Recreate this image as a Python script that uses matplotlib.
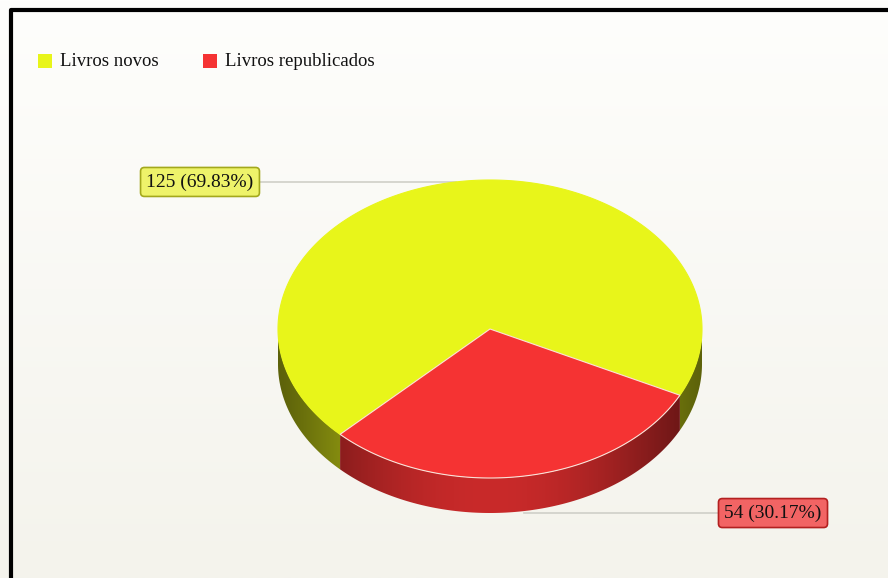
import numpy as np
import matplotlib
matplotlib.use('Agg')
import matplotlib.pyplot as plt
from matplotlib.patches import Polygon, Rectangle
from matplotlib.colors import to_rgb

##data
labels = ['Livros novos', 'Livros republicados']
values = [125, 54]
colors = ['#e8f51a', '#f53333']
box_faces = ['#eef36a', '#f26464']
box_edges = ['#a3a81c', '#b32020']

##geometry of the pie (pixel space)
cx, cy = 490, 329
rx, ry = 212, 149
depth = 35
start = 225.0     # degrees, where the second slice begins

plt.rcParams['font.family'] = ['Liberation Serif', 'DejaVu Serif']

fig = plt.figure(figsize=(8.88, 5.78), dpi=100)
ax = fig.add_axes([0, 0, 1, 1])
ax.set_xlim(0, 888)
ax.set_ylim(578, 0)
ax.axis('off')

###background
bg = np.linspace(0, 1, 200)[:, None]
top_c = np.array(to_rgb('#fefefc'))
bot_c = np.array(to_rgb('#f4f3ec'))
bg_img = top_c[None, None, :] * (1 - bg[:, :, None]) + bot_c[None, None, :] * bg[:, :, None]
ax.imshow(bg_img, extent=(0, 888, 578, 0), aspect='auto', zorder=0)

###frame
ax.plot([10.5, 10.5, 888], [578, 9.5, 9.5], color='black', lw=3, zorder=10,
        solid_capstyle='projecting')


def pt(a, dz=0.0):
    r = np.radians(a)
    return cx + rx * np.cos(r), cy - ry * np.sin(r) + dz


##angles of each slice, counter clockwise, red slice first from start
total = float(sum(values))
spans = [v / total * 360.0 for v in values]
a_red0 = start
a_red1 = start + spans[1]
a_yel0 = a_red1
a_yel1 = a_yel0 + spans[0]
ranges = [(a_yel0, a_yel1), (a_red0, a_red1)]

###side walls, only the front half (180..360) shows
xs_grad = np.linspace(cx - rx, cx + rx, 400)
shade = 0.4 + 0.42 * np.clip(1 - ((xs_grad - cx) / rx) ** 2, 0, 1) ** 1.3
for (a0, a1), col in zip(ranges, colors):
    base = np.array(to_rgb(col))
    for k in (-360, 0, 360):
        lo = max(a0 + k, 180)
        hi = min(a1 + k, 360)
        if hi <= lo:
            continue
        aa = np.linspace(lo, hi, 120)
        topx, topy = pt(aa)
        botx, boty = pt(aa[::-1], depth)
        poly = Polygon(np.column_stack([np.r_[topx, botx], np.r_[topy, boty]]),
                       closed=True, facecolor='none', edgecolor='none')
        ax.add_patch(poly)
        img = np.clip(base[None, None, :] * shade[None, :, None], 0, 1)
        im = ax.imshow(img, extent=(cx - rx, cx + rx, cy + ry + depth + 2, cy - 2),
                       aspect='auto', zorder=2)
        im.set_clip_path(poly)

###top faces
for (a0, a1), col in zip(ranges, colors):
    aa = np.linspace(a0, a1, 300)
    px, py = pt(aa)
    verts = np.column_stack([np.r_[cx, px], np.r_[cy, py]])
    edge = '#fbe2d8' if col == colors[1] else col
    ax.add_patch(Polygon(verts, closed=True, facecolor=col, edgecolor=edge,
                         lw=0.8, zorder=3))

###value labels with horizontal leader lines
label_x = [200, 773]
for (a0, a1), v, fc, ec, tx in zip(ranges, values, box_faces, box_edges, label_x):
    mid = (a0 + a1) / 2.0
    mx, my = pt(mid)
    if np.sin(np.radians(mid)) < 0:
        my += depth + 2
    ax.plot([mx, tx], [my, my], color='#cfcfc8', lw=1.2, zorder=1)
    ax.text(tx, my, '%d (%.2f%%)' % (v, v / total * 100), fontsize=14,
            ha='center', va='center', color='#111111', zorder=6,
            bbox=dict(boxstyle='round,pad=0.3,rounding_size=0.2', fc=fc, ec=ec, lw=1.2))

###legend
leg_x = [38, 203]
for x0, lab, col in zip(leg_x, labels, colors):
    ax.add_patch(Rectangle((x0, 54), 14, 14, facecolor=col, edgecolor='none', zorder=5))
    ax.text(x0 + 22, 61, lab, fontsize=13.5, ha='left', va='center', color='#111111')

fig.savefig('out.png', dpi=100)
